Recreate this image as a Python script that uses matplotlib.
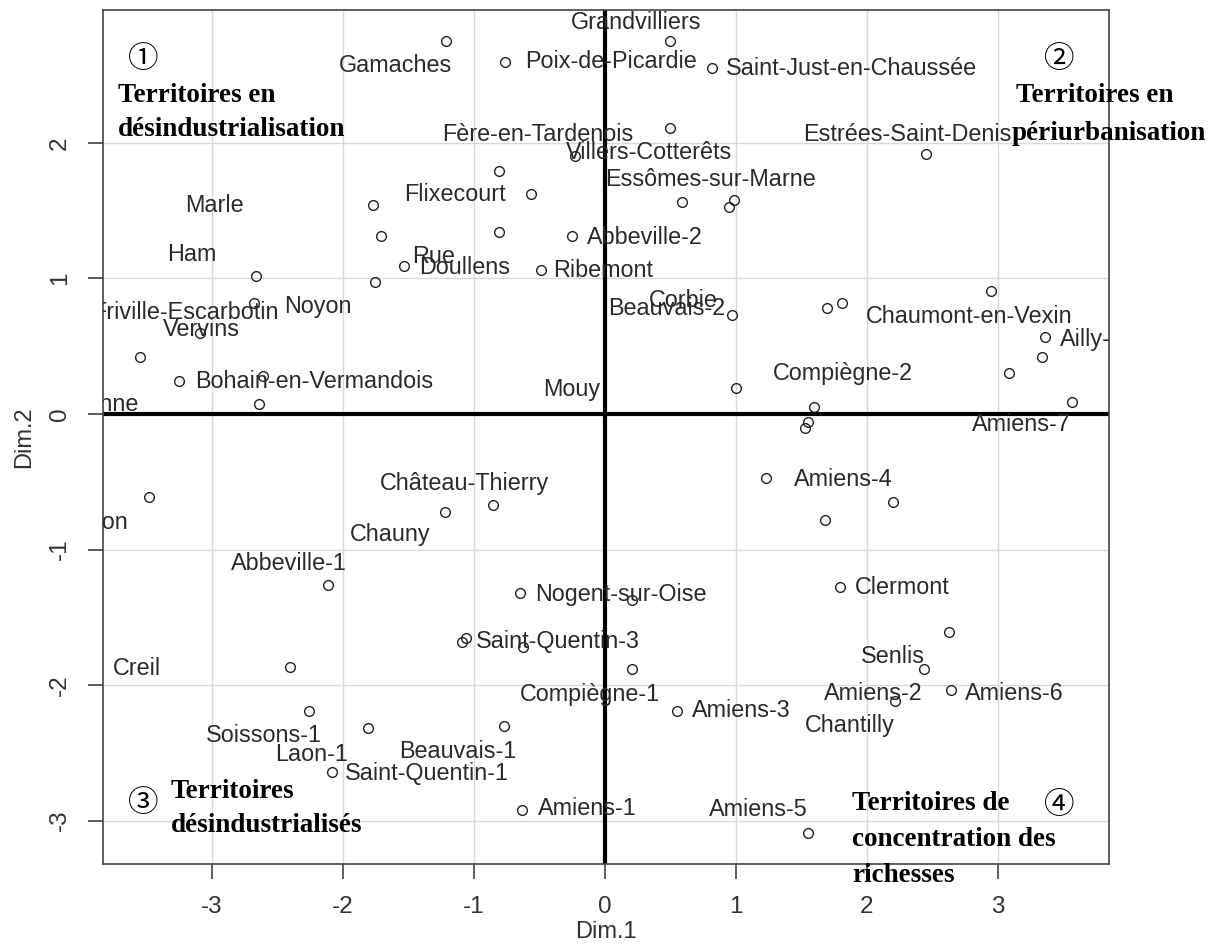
import matplotlib
matplotlib.use('Agg')
import matplotlib.pyplot as plt

plt.rcParams['axes.unicode_minus'] = False

# point coordinates (Dim.1, Dim.2)
dim1 = [-1.21, -0.76, -0.81, -0.23, -0.56, -1.77, -1.71, -0.81, -0.25, -1.53,
        -0.49, -2.66, -1.75, -2.68, -3.09, -3.55, -3.25, -2.61, -2.64,
        0.50, 0.82, 0.50, 2.45, 0.59, 0.99, 0.95, 0.97, 1.70, 1.81, 2.95,
        3.36, 3.34, 3.09, 3.57, 1.00, 1.60,
        1.55, 1.53, 1.23, 2.20, 1.68, 1.80, 0.21, 2.63, 2.44, 0.21, 2.64,
        2.22, 0.55, 1.55,
        -3.48, -1.22, -0.85, -2.11, -0.65, -1.09, -1.06, -0.62, -2.40, -2.26,
        -1.81, -0.77, -2.08, -0.63]
dim2 = [2.75, 2.60, 1.79, 1.90, 1.62, 1.54, 1.31, 1.34, 1.31, 1.09,
        1.06, 1.02, 0.97, 0.82, 0.60, 0.42, 0.24, 0.28, 0.07,
        2.75, 2.55, 2.11, 1.92, 1.56, 1.58, 1.53, 0.73, 0.78, 0.82, 0.91,
        0.57, 0.42, 0.30, 0.09, 0.19, 0.05,
        -0.06, -0.10, -0.47, -0.65, -0.78, -1.28, -1.37, -1.61, -1.88, -1.88, -2.04,
        -2.12, -2.19, -3.09,
        -0.61, -0.72, -0.67, -1.26, -1.32, -1.68, -1.65, -1.72, -1.87, -2.19,
        -2.32, -2.30, -2.64, -2.92]

# canton labels and where they sit on the map
labels = ['Gamaches', 'Poix-de-Picardie', 'Grandvilliers', 'Saint-Just-en-Chaussée',
          'Fère-en-Tardenois', 'Villers-Cotterêts', 'Essômes-sur-Marne',
          'Estrées-Saint-Denis', 'Flixecourt', 'Marle', 'Ham', 'Abbeville-2', 'Rue',
          'Doullens', 'Ribemont', 'Noyon', 'Friville-Escarbotin', 'Vervins',
          'Bohain-en-Vermandois', 'Mouy', 'Péronne', 'Hirson', 'Château-Thierry',
          'Chauny', 'Abbeville-1', 'Nogent-sur-Oise', 'Saint-Quentin-3', 'Creil',
          'Compiègne-1', 'Soissons-1', 'Laon-1', 'Beauvais-1', 'Saint-Quentin-1',
          'Amiens-1', 'Amiens-7', 'Amiens-4', 'Clermont', 'Senlis', 'Amiens-2',
          'Amiens-6', 'Amiens-3', 'Chantilly', 'Amiens-5', 'Corbie', 'Beauvais-2',
          'Chaumont-en-Vexin', 'Ailly-sur-Noye', 'Compiègne-2']
label_x = [-1.60, 0.05, 0.24, 1.88, -0.51, 0.34, 0.81, 2.31, -1.14, -2.98, -3.15,
           0.31, -1.31, -1.07, -0.01, -2.19, -3.20, -3.08, -2.22, -0.25, -3.90,
           -3.90, -1.07, -1.64, -2.41, 0.12, -0.36, -3.57, -0.11, -2.60, -2.24,
           -1.12, -1.36, -0.13, 3.18, 1.82, 2.27, 2.20, 2.05, 3.13, 1.04, 1.87,
           1.17, 0.60, 0.47, 2.78, 4.03, 1.82]
label_y = [2.57, 2.60, 2.89, 2.55, 2.06, 1.93, 1.73, 2.06, 1.62, 1.54, 1.18,
           1.30, 1.16, 1.08, 1.06, 0.79, 0.75, 0.62, 0.24, 0.18, 0.07,
           -0.80, -0.51, -0.89, -1.10, -1.33, -1.68, -1.88, -2.07, -2.37, -2.51,
           -2.49, -2.65, -2.91, -0.08, -0.48, -1.28, -1.79, -2.06, -2.06, -2.19,
           -2.30, -2.92, 0.84, 0.78, 0.72, 0.55, 0.30]

xticks = [-3, -2, -1, 0, 1, 2, 3]
yticks = [-3, -2, -1, 0, 1, 2]

W, H = 1210, 948
fig = plt.figure(figsize=(W / 100, H / 100), dpi=100)
ax = fig.add_axes([103 / W, 1 - 864 / H, (1109 - 103) / W, (864 - 10) / H])

ax.set_xlim(-3.83, 3.85)
ax.set_ylim(-3.32, 2.98)
ax.set_xticks(xticks)
ax.set_yticks(yticks)
ax.grid(True, color='#d9d9d9', linewidth=1.0)
ax.set_axisbelow(True)

ax.axhline(0, color='black', linewidth=3, zorder=2)
ax.axvline(0, color='black', linewidth=3, zorder=2)

ax.plot(dim1, dim2, linestyle='none', marker='o', markersize=7,
        markerfacecolor='none', markeredgecolor='#222222', markeredgewidth=1.0, zorder=3)

for name, lx, ly in zip(labels, label_x, label_y):
    ax.text(lx, ly, name, ha='center', va='center', fontsize=16.8,
            family='Liberation Sans', color='#2a2a2a', clip_on=True, zorder=4)

for s in ax.spines.values():
    s.set_color('#444444')
    s.set_linewidth(1.2)

ax.tick_params(length=11, width=1.1, color='#333333', labelsize=17.5, pad=12)
for t in ax.get_xticklabels():
    t.set_family('Liberation Sans')
    t.set_color('#333333')
for t in ax.get_yticklabels():
    t.set_family('Liberation Sans')
    t.set_color('#333333')
    t.set_rotation(90)
    t.set_va('center')
ax.set_xlabel('Dim.1', fontsize=17, family='Liberation Sans', color='#333333', labelpad=2)
ax.set_ylabel('Dim.2', fontsize=17, family='Liberation Sans', color='#333333', labelpad=10)


def ftext(px, py, s, **kw):
    fig.text(px / W, 1 - py / H, s, **kw)


bold = dict(family='Liberation Serif', fontweight='bold', fontsize=19.5,
            color='black', va='center', ha='left')
circ = dict(family=['Noto Sans CJK SC', 'DejaVu Sans'], fontsize=22,
            color='black', va='center', ha='center')

ftext(143, 59, '①', **circ)
ftext(118, 95, 'Territoires en', **bold)
ftext(118, 130, 'désindustrialisation', **bold)

ftext(1059, 60, '②', **circ)
ftext(1016, 95, 'Territoires en', **bold)
ftext(1012, 133, 'périurbanisation', **bold)

ftext(143, 803, '③', **circ)
ftext(171, 791, 'Territoires', **bold)
ftext(171, 826, 'désindustrialisés', **bold)

ftext(1059, 806, '④', **circ)
ftext(852, 803, 'Territoires de', **bold)
ftext(852, 839, 'concentration des', **bold)
ftext(852, 876, 'richesses', **bold)

fig.savefig('out.png', dpi=100)
